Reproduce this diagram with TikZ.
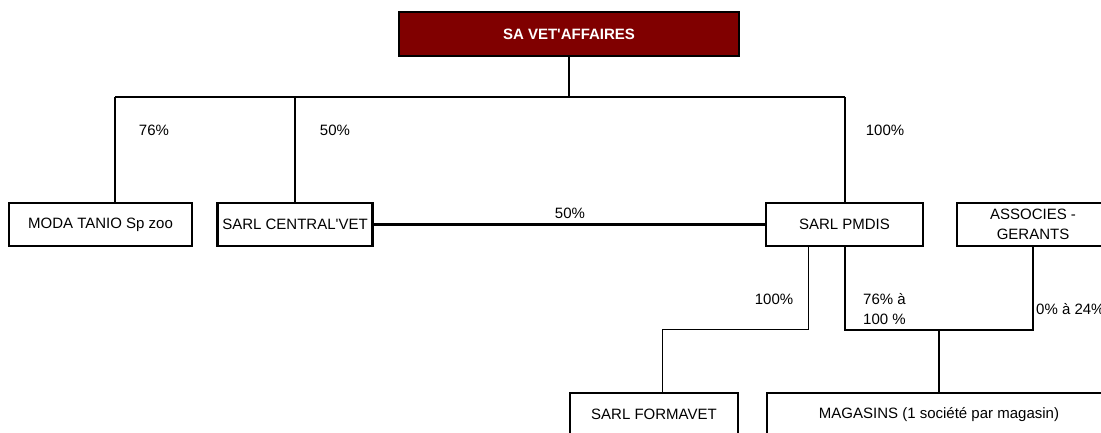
\documentclass[tikz,border=0pt]{standalone}
\usepackage{fontspec}
\setmainfont{Liberation Sans}[Ligatures=TeXOff]
\usetikzlibrary{positioning, calc}
\definecolor{vetred}{RGB}{128,0,0}
\tikzset{
  firm/.style={draw, line width=2.2pt, inner sep=0pt, minimum height=43pt, align=center},
  link/.style={line width=2.2pt},
  thinlink/.style={line width=1pt},
  pct/.style={inner sep=0pt, align=left}
}

\begin{document}
\begin{tikzpicture}[x=1pt, y=-1pt, font=\fontsize{15}{20}\selectfont]
  \clip (0,0) rectangle (1101,433);

  \node[firm, fill=vetred, text=white, font=\fontsize{15}{20}\selectfont\bfseries, minimum width=340pt, minimum height=44pt] (vet) at (569,34) {SA VET'AFFAIRES};

  \node[firm, minimum width=183pt] (moda) at (100.5,224.5) {MODA TANIO Sp zoo};
  \node[firm, minimum width=155pt] (central) at (295,224.5) {SARL CENTRAL'VET};
  \node[firm, minimum width=157pt] (pmdis) at (844.5,224.5) {SARL PMDIS};
  \node[firm, minimum width=152pt] (assoc) at (1033,224.5) {ASSOCIES -\\GERANTS};

  \node[firm, minimum width=168pt] (formavet) at (654,414.5) {SARL FORMAVET};
  \node[firm, minimum width=344pt] (magasins) at (939,414.5) {MAGASINS (1 société par magasin)};

  \coordinate (t1) at (115,97);
  \coordinate (t3) at (845,97);
  \coordinate (f1) at (808,329);
  \coordinate (f2) at (662,329);
  \coordinate (m1) at (845,330);
  \coordinate (m2) at (1033,330);

  \draw[link] (vet) -- (vet |- t1);
  \draw[link] (t1) -- (t3);
  \draw[link] (t1) -- (t1 |- moda.north);
  \draw[link] (central |- t1) -- (central.north);
  \draw[link] (t3) -- (t3 |- pmdis.north);
  \draw[link] (central.east) -- (pmdis.west);

  \draw[thinlink] (f1 |- pmdis.south) -- (f1) -- (f2) -- (f2 |- formavet.north);
  \draw[link] (m1 |- pmdis.south) -- (m1) -- (m2) -- (assoc.south);
  \draw[link] (magasins |- m1) -- (magasins.north);

  \node[pct] (p76) at (154,130) {76\%};
  \node[pct] (p50a) at (335,130) {50\%};
  \node[pct] (p100a) at (885,130) {100\%};
  \node[pct] (p50b) at (570,213) {50\%};
  \node[pct] (p100b) at (774,299) {100\%};
  \node[pct, anchor=west] (p76b) at (863,309.5) {76\% à\\100 \%};
  \node[pct, anchor=west] (p024) at (1036,309) {0\% à 24\%};
\end{tikzpicture}
\end{document}
